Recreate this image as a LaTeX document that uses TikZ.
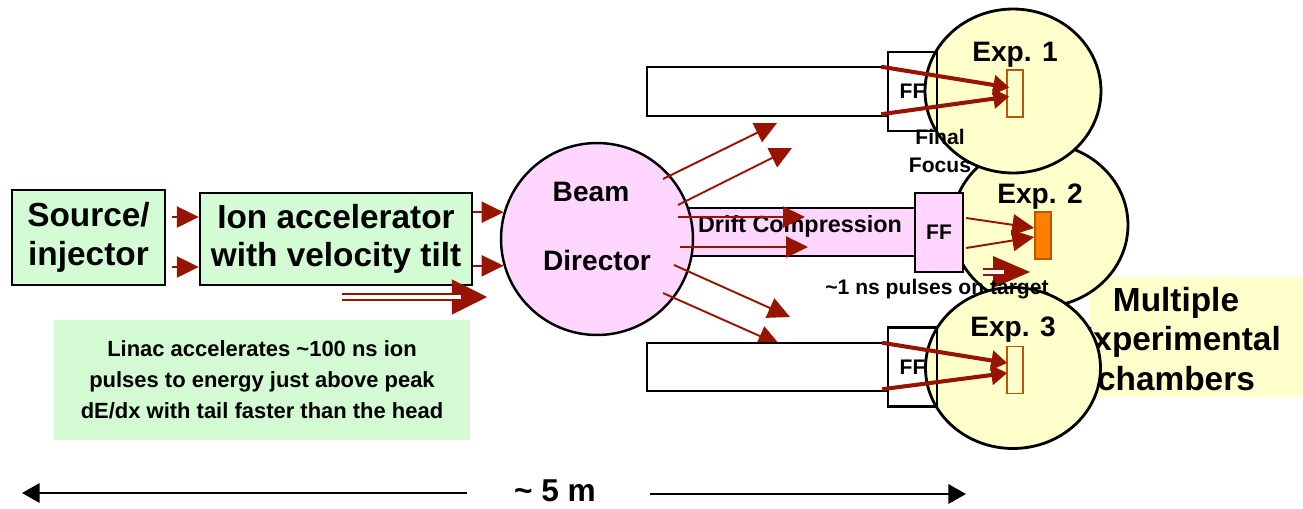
\documentclass[tikz,border=0pt]{standalone}
\usepackage{fontspec}
\setmainfont{Liberation Sans}
\usepackage{tikz,xcolor}
\usetikzlibrary{arrows.meta,calc,shapes.geometric}

\definecolor{beamred}{RGB}{150,20,0}
\definecolor{boxgreen}{RGB}{212,252,212}
\definecolor{notegreen}{RGB}{212,250,212}
\definecolor{dirpink}{RGB}{255,214,255}
\definecolor{chamberyellow}{RGB}{255,255,204}
\definecolor{targetorange}{RGB}{255,128,0}
\definecolor{targetedge}{RGB}{190,85,0}

\tikzset{
  greenbox/.style={draw, line width=1.4pt, fill=boxgreen, align=center, inner sep=0pt,
    font=\fontsize{19}{22}\selectfont\bfseries},
  notebox/.style={fill=notegreen, align=center, inner sep=0pt,
    font=\fontsize{12.5}{17.6}\selectfont\bfseries},
  pinkbox/.style={draw, line width=1.4pt, fill=dirpink, inner sep=0pt},
  pipe/.style={draw, line width=1.4pt, fill=white, inner sep=0pt},
  ffbox/.style={draw, line width=1.4pt, inner sep=0pt, font=\fontsize{12}{14}\selectfont\bfseries},
  chamber/.style={ellipse, draw, line width=1.6pt, fill=chamberyellow, inner sep=0pt},
  target/.style={draw=targetedge, line width=0.9pt, fill=chamberyellow, inner sep=0pt,
    minimum width=0.32cm, minimum height=0.94cm},
  dirtext/.style={font=\fontsize{16}{18}\selectfont\bfseries},
  exptext/.style={font=\fontsize{16}{18}\selectfont\bfseries},
  smalltext/.style={font=\fontsize{12}{16}\selectfont\bfseries, align=center},
  beam/.style={beamred, line width=1.1pt, -{Triangle[length=12.5pt,width=12pt]}},
  thickbeam/.style={beamred, line width=2.3pt, -{Triangle[length=9pt,width=11pt]}},
  bigtip/.style={beamred, line width=0.4pt, -{Triangle[length=20pt,width=20pt]}},
  dblbeam/.style={draw=beamred, double=white, line width=0.85pt, double distance=2.3pt, shorten >=15pt},
  dimarrow/.style={black, line width=1.2pt, -{Triangle[length=10pt,width=11pt]}}
}

\begin{document}
\begin{tikzpicture}[x=0.02cm,y=-0.02cm]
\useasboundingbox (0,0) rectangle (1303,508);

% linac note
\node[notebox, minimum width=8.32cm, minimum height=2.4cm] (note) at (262,380)
  {Linac accelerates \textasciitilde100 ns ion\\pulses to energy just above peak\\dE/dx with tail faster than the head};

% source and accelerator
\node[greenbox, minimum width=3.06cm, minimum height=1.9cm] (src) at (88.5,237.5) {Source/\\injector};
\node[greenbox, minimum width=5.44cm, minimum height=1.84cm] (acc) at (336,239) {Ion accelerator\\with velocity tilt};
\draw[beam] ($(src.east)+(6,-20.5)$) -- ($(acc.west)+(0,-22)$);
\draw[beam] ($(src.east)+(6,29.5)$) -- ($(acc.west)+(0,28)$);

% drift pipe and beam director
\node[pinkbox, minimum width=4.9cm, minimum height=0.96cm] (drift) at (792.5,232) {};
\node[circle, draw, line width=1.4pt, fill=dirpink, minimum size=3.84cm, inner sep=0pt] (director) at (597,239) {};
\node[dirtext] (beamlabel) at ($(director.center)+(-6,-47)$) {Beam};
\node[dirtext] (dirlabel) at ($(director.center)+(0,21)$) {Director};
\node[font=\fontsize{13.3}{15}\selectfont\bfseries] (driftlabel) at (800,226) {Drift Compression};

\draw[beam] (acc.east |- director.164) -- (director.164);
\draw[beam] (acc.east |- director.196) -- (director.196);

% long double arrow under the accelerator
\coordinate (dbl1) at (342,297);
\coordinate (dbl1tip) at (487,297);
\draw[bigtip] (dbl1) -- (dbl1tip);
\draw[dblbeam] (dbl1) -- (dbl1tip);

% beams out of the director
\coordinate (d1) at (777,123);
\coordinate (d2) at (792,148);
\coordinate (d3) at (805,217);
\coordinate (d4) at (808,247);
\coordinate (d5) at (790,317);
\coordinate (d6) at (780,345);
\draw[beam] ($(director.center)+(66,-60)$) -- (d1);
\draw[beam] ($(director.center)+(81,-34)$) -- (d2);
\draw[beam] ($(director.center)+(81,-22)$) -- (d3);
\draw[beam] ($(director.center)+(83,8)$) -- (d4);
\draw[beam] ($(director.center)+(77,26)$) -- (d5);
\draw[beam] ($(director.center)+(66,54)$) -- (d6);

% upper and lower beam lines
\node[pipe, minimum width=4.82cm, minimum height=0.98cm] (pipetop) at (767.5,91.5) {};
\node[pipe, minimum width=4.82cm, minimum height=0.96cm] (pipebot) at (767.5,367) {};

% chambers
\node[fill=chamberyellow, minimum width=4.26cm, minimum height=2.4cm, inner sep=0pt] (chamberbox) at (1196.5,337) {};
\node[align=center, font=\fontsize{19}{22.7}\selectfont\bfseries] (chambertext) at (1176,339)
  {Multiple\\Experimental\\chambers};
\node[chamber, minimum width=3.52cm, minimum height=3.28cm] (exp2) at (1040,225) {};
\node[chamber, minimum width=3.52cm, minimum height=3.28cm] (exp1) at (1013,91) {};
\node[chamber, minimum width=3.5cm, minimum height=3.22cm] (exp3) at (1013,368) {};
\node[exptext] (exp1label) at ($(exp1.center)+(2,-36)$) {Exp. 1};
\node[exptext] (exp2label) at ($(exp2.center)+(0,-28)$) {Exp. 2};
\node[exptext] (exp3label) at ($(exp3.center)+(0,-38)$) {Exp. 3};

% final focus boxes
\node[ffbox, minimum width=0.98cm, minimum height=1.58cm] (fftop) at (912.5,91.5) {FF};
\node[ffbox, fill=dirpink, minimum width=0.96cm, minimum height=1.58cm] (ffmid) at (939,232.5) {FF};
\node[ffbox, minimum width=0.98cm, minimum height=1.58cm] (ffbot) at (912.5,367) {FF};
\node[smalltext] (ffname) at (940,151) {Final\\Focus};

% targets
\node[target] (tgt1) at (1015,93.5) {};
\node[target, fill=targetorange] (tgt2) at (1043,235.5) {};
\node[target] (tgt3) at (1015,370) {};

\draw[thickbeam] ($(pipetop.north east)+(-8,1)$) -- ($(tgt1.west)+(3,-6)$);
\draw[thickbeam] ($(pipetop.south east)+(-8,-3)$) -- ($(tgt1.west)+(3,3)$);
\draw[thickbeam] ($(pipebot.north east)+(-7,1)$) -- ($(tgt3.west)+(1,-7)$);
\draw[thickbeam] ($(pipebot.south east)+(-7,-3)$) -- ($(tgt3.west)+(1,3)$);
\draw[beam] ($(ffmid.east)+(2,-14.5)$) -- ($(tgt2.west)+(0,-7.5)$);
\draw[beam] ($(ffmid.east)+(2,15.5)$) -- ($(tgt2.west)+(0,1.5)$);

% short double arrow in Exp. 2
\coordinate (dbl2) at (983,272);
\coordinate (dbl2tip) at (1030,272);
\draw[beamred, line width=0.4pt, -{Triangle[length=21pt,width=18pt]}] (dbl2) -- (dbl2tip);
\draw[dblbeam] (dbl2) -- (dbl2tip);

\node[smalltext] (pulses) at (937,289) {\textasciitilde1 ns pulses on target};

% length scale
\node[inner sep=0pt, font=\fontsize{18}{20}\selectfont\bfseries] (dimlabel) at (555,491) {\textasciitilde\ 5 m};
\coordinate (dimleft) at (22,493);
\coordinate (dimright) at (966,494);
\draw[dimarrow] ($(dimlabel.west)+(-47,2)$) -- (dimleft);
\draw[dimarrow] ($(dimlabel.east)+(54,3)$) -- (dimright);

\end{tikzpicture}
\end{document}
